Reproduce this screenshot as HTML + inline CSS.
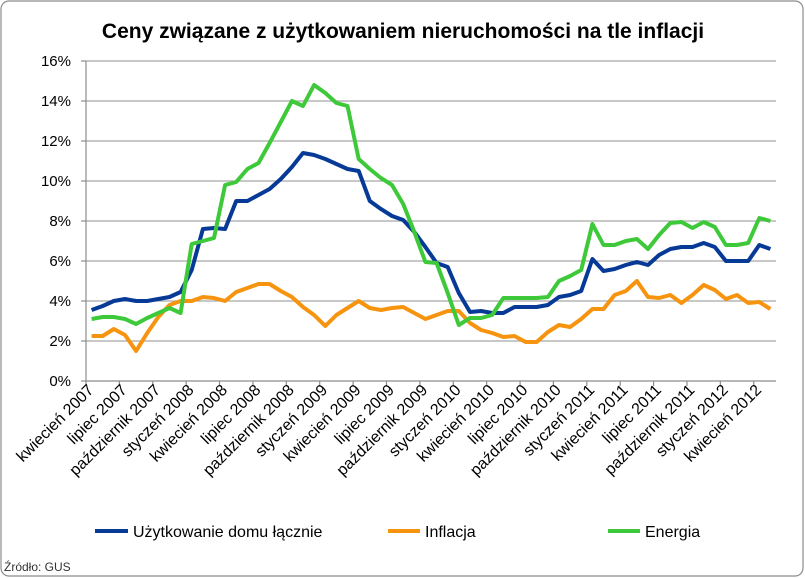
<!DOCTYPE html>
<html><head><meta charset="utf-8"><style>
body{margin:0;background:#fff;}
svg{display:block;font-family:"Liberation Sans",Arial,sans-serif;}
</style></head><body>
<svg id="chart" width="805" height="578">
<rect x="1" y="1" width="802" height="575" rx="8" fill="#fff" stroke="#8c8c8c" stroke-width="1.2"/>
<text x="403" y="38" text-anchor="middle" font-size="21" font-weight="bold" fill="#000">Ceny związane z użytkowaniem nieruchomości na tle inflacji</text>
<g id="grid"></g><g id="axes"></g><g id="series"></g>
<g>
<line x1="95" y1="531" x2="128" y2="531" stroke="#063a96" stroke-width="4"/>
<text x="133" y="537" font-size="16">Użytkowanie domu łącznie</text>
<line x1="388" y1="531" x2="420" y2="531" stroke="#f7940f" stroke-width="4"/>
<text x="425" y="537" font-size="16">Inflacja</text>
<line x1="608" y1="531" x2="640" y2="531" stroke="#3ec93a" stroke-width="4"/>
<text x="645" y="537" font-size="16">Energia</text>
</g>
<text x="4" y="571" font-size="12" fill="#333">Źródło: GUS</text>
</svg>
<script>
const tickLabels = ["kwiecień 2007","lipiec 2007","październik 2007","styczeń 2008","kwiecień 2008","lipiec 2008","październik 2008","styczeń 2009","kwiecień 2009","lipiec 2009","październik 2009","styczeń 2010","kwiecień 2010","lipiec 2010","październik 2010","styczeń 2011","kwiecień 2011","lipiec 2011","październik 2011","styczeń 2012","kwiecień 2012"];
const yTicks = [0,2,4,6,8,10,12,14,16];
const uzytkowanie = [3.55,3.75,4.0,4.1,4.0,4.0,4.1,4.2,4.45,5.55,7.6,7.65,7.6,9.0,9.0,9.3,9.6,10.1,10.7,11.4,11.3,11.1,10.85,10.6,10.5,9.0,8.6,8.25,8.05,7.45,6.7,5.9,5.7,4.4,3.45,3.5,3.4,3.4,3.7,3.7,3.7,3.8,4.2,4.3,4.5,6.1,5.5,5.6,5.8,5.95,5.8,6.3,6.6,6.7,6.7,6.9,6.7,6.0,6.0,6.0,6.8,6.6];
const inflacja = [2.25,2.25,2.6,2.3,1.5,2.4,3.2,3.8,4.0,4.0,4.2,4.15,4.0,4.45,4.65,4.85,4.85,4.5,4.2,3.7,3.3,2.75,3.3,3.65,4.0,3.65,3.55,3.65,3.7,3.4,3.1,3.3,3.5,3.5,2.9,2.55,2.4,2.2,2.25,1.95,1.95,2.45,2.8,2.7,3.1,3.6,3.6,4.3,4.5,5.0,4.2,4.15,4.3,3.9,4.3,4.8,4.55,4.1,4.3,3.9,3.95,3.6];
const energia = [3.1,3.2,3.2,3.1,2.85,3.15,3.4,3.65,3.4,6.85,7.0,7.15,9.8,9.95,10.6,10.9,11.9,12.95,14.0,13.75,14.8,14.4,13.9,13.75,11.1,10.6,10.15,9.8,8.85,7.45,5.95,5.9,4.4,2.8,3.15,3.15,3.3,4.15,4.15,4.15,4.15,4.2,5.0,5.25,5.55,7.85,6.8,6.8,7.0,7.1,6.6,7.3,7.9,7.95,7.65,7.95,7.7,6.8,6.8,6.9,8.15,8.0];

const NS="http://www.w3.org/2000/svg";
const L=86,R=776,T=61,B=381,YMAX=16;
const n=uzytkowanie.length;
const bw=(R-L)/n;
const xScale=i=>L+bw*(i+0.5);
const yScale=v=>B-(v/YMAX)*(B-T);
function mk(tag,attrs,parent){const e=document.createElementNS(NS,tag);for(const k in attrs)e.setAttribute(k,attrs[k]);parent.appendChild(e);return e;}
const grid=document.getElementById('grid'),axes=document.getElementById('axes'),ser=document.getElementById('series');
yTicks.forEach(v=>{
  const y=yScale(v);
  if(v>0){const g=mk('line',{x1:L,x2:R,y1:y,y2:y,stroke:'#a6a6a6','stroke-width':1.3},grid);
  
  }
  const tk=mk('line',{x1:L-5,x2:L,y1:y,y2:y,stroke:'#8c8c8c','stroke-width':1.2},axes);
  
  
  const t=mk('text',{x:L-15,y:y+5,'text-anchor':'end','font-size':15},axes);
  t.textContent=v+'%';
  
  
});
const ya=mk('line',{x1:L,x2:L,y1:T,y2:B,stroke:'#8c8c8c','stroke-width':1.2},axes);


const xa=mk('line',{x1:L,x2:R,y1:B,y2:B,stroke:'#8c8c8c','stroke-width':1.2},axes);


for(let i=0;i<=n;i+=3){
  const x=L+bw*i;
  const tk=mk('line',{x1:x,x2:x,y1:B,y2:B+5,stroke:'#8c8c8c','stroke-width':1.2},axes);
  
  
}
tickLabels.forEach((lab,k)=>{
  const x=xScale(k*3)+3,y=B+10;
  const t=mk('text',{x:x,y:y,'text-anchor':'end','font-size':16,transform:`rotate(-45 ${x} ${y})`},axes);
  t.textContent=lab;
  
  
});
function line(data,color,name){
  const d=data.map((v,i)=>(i?'L':'M')+xScale(i).toFixed(1)+' '+yScale(v).toFixed(1)).join(' ');
  const p=mk('path',{d:d,fill:'none',stroke:color,'stroke-width':4,'stroke-linejoin':'round'},ser);
  
  
}
line(inflacja,'#f7940f','series-inflacja');
line(uzytkowanie,'#063a96','series-uzytkowanie');
line(energia,'#3ec93a','series-energia');
</script>
</body></html>
